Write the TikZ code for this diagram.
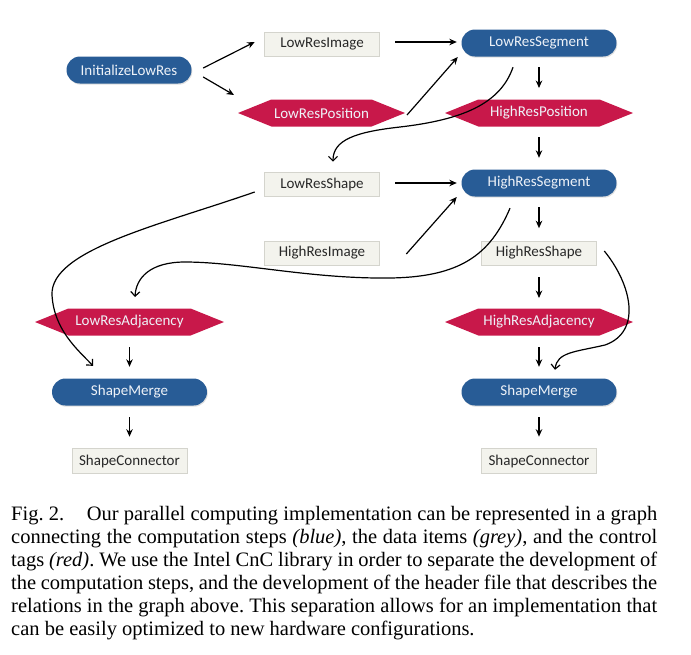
\documentclass[tikz,border=0pt]{standalone}
\usepackage{fontspec}
\setmainfont{Liberation Serif}
\newfontfamily\nodefont{Carlito}
\usetikzlibrary{arrows.meta,shapes.symbols,shadows}
\definecolor{stepblue}{RGB}{40,92,150}
\definecolor{tagred}{RGB}{200,24,74}
\definecolor{itemfill}{RGB}{243,243,237}
\definecolor{itemdraw}{RGB}{212,212,205}
\definecolor{itemtext}{RGB}{40,40,40}
\definecolor{lighttext}{RGB}{238,242,248}
\begin{document}
\frenchspacing
\begin{tikzpicture}[x=1pt,y=-1pt,
  basenode/.style={font=\nodefont\fontsize{15}{16}\selectfont, inner sep=0pt},
  stepnode/.style={basenode, fill=stepblue, text=lighttext, rounded corners=13.5pt,
    minimum width=155pt, minimum height=27pt,
    drop shadow={shadow xshift=0.8pt,shadow yshift=-1.2pt,opacity=0.25}},
  itemnode/.style={basenode, fill=itemfill, draw=itemdraw, line width=0.6pt, text=itemtext,
    minimum width=115pt, minimum height=24pt},
  tagnode/.style={basenode, signal, signal to=west and east, signal pointer angle=44,
    fill=tagred, text=lighttext, minimum width=188pt, minimum height=27pt},
  arr/.style={-{Stealth[length=7.5pt,width=6.5pt]}, line width=1.2pt},
  carr/.style={-{Straight Barb[length=4.5pt,width=9pt]}, line width=1.2pt},
  captext/.style={anchor=base west, inner sep=0pt, font=\fontsize{20.5}{23}\selectfont}
]
\useasboundingbox (0,0) rectangle (691,654);

\node[stepnode, minimum width=125pt] (init) at (129,70) {InitializeLowRes};
\node[itemnode] (lri) at (322,44) {LowResImage};
\node[tagnode, minimum width=167pt] (lrp) at (321.5,113) {LowResPosition};
\node[stepnode] (lrs) at (539,43) {LowResSegment};
\node[tagnode] (hrp) at (539,113) {HighResPosition};
\node[itemnode] (lrsh) at (322,184) {LowResShape};
\node[stepnode] (hrs) at (539,183) {HighResSegment};
\node[itemnode] (hri) at (322,253) {HighResImage};
\node[itemnode] (hrsh) at (539,253) {HighResShape};
\node[tagnode, minimum width=189pt] (lra) at (129.5,322) {LowResAdjacency};
\node[tagnode] (hra) at (539,322) {HighResAdjacency};
\node[stepnode] (sml) at (129.5,392) {ShapeMerge};
\node[stepnode] (smr) at (539,392) {ShapeMerge};
\node[itemnode, minimum height=25pt] (scl) at (129.5,461) {ShapeConnector};
\node[itemnode, minimum height=25pt] (scr) at (539,461) {ShapeConnector};

% straight connectors
\draw[arr] ([shift={(11.5,-2)}]init.east) -- ([shift={(-9.5,-2)}]lri.west);
\draw[arr] ([shift={(11.5,7)}]init.east) -- ([shift={(-87.5,-18)}]lrp.center);
\draw[arr] ([shift={(15.5,-2)}]lri.east) -- ([shift={(-4.5,-1)}]lrs.west);
\draw[arr] ([shift={(85.5,2)}]lrp.center) -- ([shift={(-3.5,14)}]lrs.west);
\draw[arr] ([shift={(0,10.5)}]lrs.south) -- ([shift={(0,-25)}]hrp.center);
\draw[arr] ([shift={(0,24)}]hrp.center) -- ([shift={(0,-11.5)}]hrs.north);
\draw[arr] ([shift={(15.5,-1)}]lrsh.east) -- ([shift={(-4.5,0)}]hrs.west);
\draw[arr] ([shift={(26.5,1)}]hri.east) -- ([shift={(-4.5,14)}]hrs.west);
\draw[arr] ([shift={(0,10.5)}]hrs.south) -- ([shift={(0,-12.5)}]hrsh.north);
\draw[arr] ([shift={(0,12)}]hrsh.south) -- ([shift={(0,-24)}]hra.center);
\draw[arr] ([shift={(0,25)}]hra.center) -- ([shift={(0,-11.5)}]smr.north);
\draw[arr] ([shift={(0,11.5)}]smr.south) -- ([shift={(0,-11.5)}]scr.north);
\draw[arr] ([shift={(0,25)}]lra.center) -- ([shift={(0,-11.5)}]sml.north);
\draw[arr] ([shift={(0,11.5)}]sml.south) -- ([shift={(0,-11.5)}]scl.north);

% curved connectors
\draw[carr] ([shift={(-26,10.5)}]lrs.south) .. controls (500,105) and (460,120) .. (400,127)
  .. controls (355,132) and (333,140) .. ([shift={(11,-10)}]lrsh.north);
\draw[carr] ([shift={(-29,11.5)}]hrs.south) .. controls (490,255) and (460,277) .. (390,278)
  .. controls (310,279) and (240,262) .. (185,262)
  .. controls (150,262) and (136,278) .. ([shift={(5.5,-25)}]lra.center);
\draw[carr] ([shift={(-9.5,8)}]lrsh.west) .. controls (160,225) and (50,250) .. (52,295)
  .. controls (54,330) and (78,350) .. ([shift={(-36.5,-12.5)}]sml.north);
\draw[carr] ([shift={(7.5,-2)}]hrsh.east) .. controls (632,285) and (642,332) .. (605,345)
  .. controls (575,352) and (557,352) .. ([shift={(16,-8.5)}]smr.north);

% caption
\node[captext] (cap1) at (11,520) {\makebox[646pt][s]{Fig.~2.\hspace{1.1em}Our parallel computing implementation can be represented in a graph}};
\node[captext] (cap2) at (11,543) {\makebox[646pt][s]{connecting the computation steps \textit{(blue)}, the data items \textit{(grey)}, and the control}};
\node[captext] (cap3) at (11,566) {\makebox[646pt][s]{tags \textit{(red)}. We use the Intel CnC library in order to separate the development of}};
\node[captext] (cap4) at (11,589) {\makebox[646pt][s]{the computation steps, and the development of the header file that describes the}};
\node[captext] (cap5) at (11,612) {\makebox[646pt][s]{relations in the graph above. This separation allows for an implementation that}};
\node[captext] (cap6) at (11,635) {can be easily optimized to new hardware configurations.};
\end{tikzpicture}
\end{document}
